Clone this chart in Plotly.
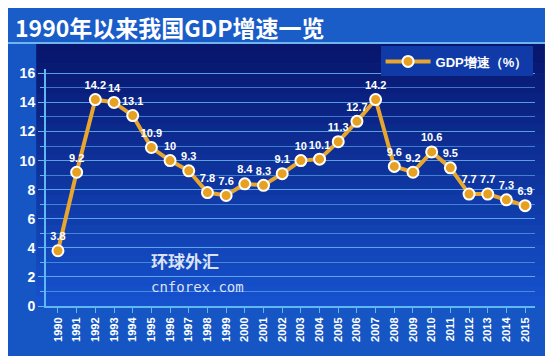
import plotly.graph_objects as go

years = list(range(1990, 2016))
gdp_growth = [3.8, 9.2, 14.2, 14, 13.1, 10.9, 10, 9.3, 7.8, 7.6, 8.4, 8.3, 9.1, 10, 10.1,
              11.3, 12.7, 14.2, 9.6, 9.2, 10.6, 9.5, 7.7, 7.7, 7.3, 6.9]
labels = ["<b>%s</b>" % v for v in gdp_growth]
series_name = "<b>GDP增速（%）</b>"
title_text = "1990年以来我国GDP增速一览"

fig = go.Figure()

# gradient background behind plot area (bands)
n = 26
top_c = (8, 22, 110)
bot_c = (22, 82, 205)
top_y = 1.11
for i in range(n):
    c = tuple(int(top_c[k] + (bot_c[k] - top_c[k]) * i / (n - 1)) for k in range(3))
    y1 = top_y - top_y * i / n
    y0 = top_y - top_y * (i + 1) / n
    fig.add_shape(type="rect", xref="x domain", yref="y domain",
                  x0=-0.02, x1=1.02, y0=y0 - 0.002, y1=y1,
                  fillcolor="rgb(%d,%d,%d)" % c, line_width=0, layer="below")

# title bar
fig.add_shape(type="rect", xref="paper", yref="paper", x0=-0.1, x1=1.1,
              y0=top_y, y1=1.5, fillcolor="#1a5cc8", line_width=0, layer="below")
fig.add_shape(type="line", xref="paper", yref="paper", x0=-0.1, x1=1.1,
              y0=top_y, y1=top_y, line=dict(color="#6fb6ee", width=2), layer="below")

fig.add_trace(go.Scatter(
    x=years, y=gdp_growth, mode="lines+markers+text", name=series_name,
    text=labels, textposition="top center",
    textfont=dict(color="white", size=11, family="Liberation Sans"),
    line=dict(color="#E8A62E", width=4),
    marker=dict(size=11, color="#E8A020", line=dict(color="white", width=2)),
))

fig.update_layout(
    width=553, height=356,
    margin=dict(l=38, r=26, t=61, b=58),
    paper_bgcolor="#1656c4",
    plot_bgcolor="rgba(0,0,0,0)",
    font=dict(family="Liberation Sans", color="white"),
    showlegend=True,
    legend=dict(x=0.995, xanchor="right", y=1.095, yanchor="top",
                bgcolor="#0f3aa8", font=dict(size=13, color="white"),
                borderwidth=0, itemwidth=45),
    annotations=[
        dict(text="<b>" + title_text + "</b>", xref="paper", yref="paper",
             x=-0.068, y=1.178, xanchor="left", yanchor="middle", showarrow=False,
             font=dict(size=23, color="white", family="Noto Sans CJK SC")),
        dict(text="<b>环球外汇</b>", xref="paper", yref="paper", x=0.21, y=0.13,
             xanchor="left", showarrow=False,
             font=dict(size=17, color="rgba(255,255,255,0.85)", family="Noto Sans CJK SC")),
        dict(text="cnforex.com", xref="paper", yref="paper", x=0.21, y=0.04,
             xanchor="left", showarrow=False,
             font=dict(size=14, color="rgba(255,255,255,0.85)", family="DejaVu Sans Mono")),
    ],
)

fig.update_xaxes(
    range=[1989.36, 2015.53], tickmode="array", tickvals=years,
    ticktext=["<b>%d</b>" % y for y in years], tickangle=-90,
    tickfont=dict(size=11, color="white"), showgrid=False,
    showline=True, linecolor="#5fb8f2", linewidth=2,
    ticks="outside", ticklen=5, tickcolor="#5fb8f2", zeroline=False,
)
fig.update_yaxes(
    range=[0, 16.3], tickmode="array", tickvals=list(range(0, 17, 2)),
    ticktext=["<b>%d</b>" % v for v in range(0, 17, 2)],
    tickfont=dict(size=14, color="white"),
    showgrid=True, gridcolor="rgba(110,190,250,0.55)", gridwidth=1,
    minor=dict(dtick=1, showgrid=True, gridcolor="rgba(110,190,250,0.55)",
               ticks="outside", ticklen=4, tickcolor="#5fb8f2"),
    showline=True, linecolor="#5fb8f2", linewidth=2,
    ticks="outside", ticklen=6, tickcolor="#5fb8f2", zeroline=False,
)

fig.write_html("out.html")
